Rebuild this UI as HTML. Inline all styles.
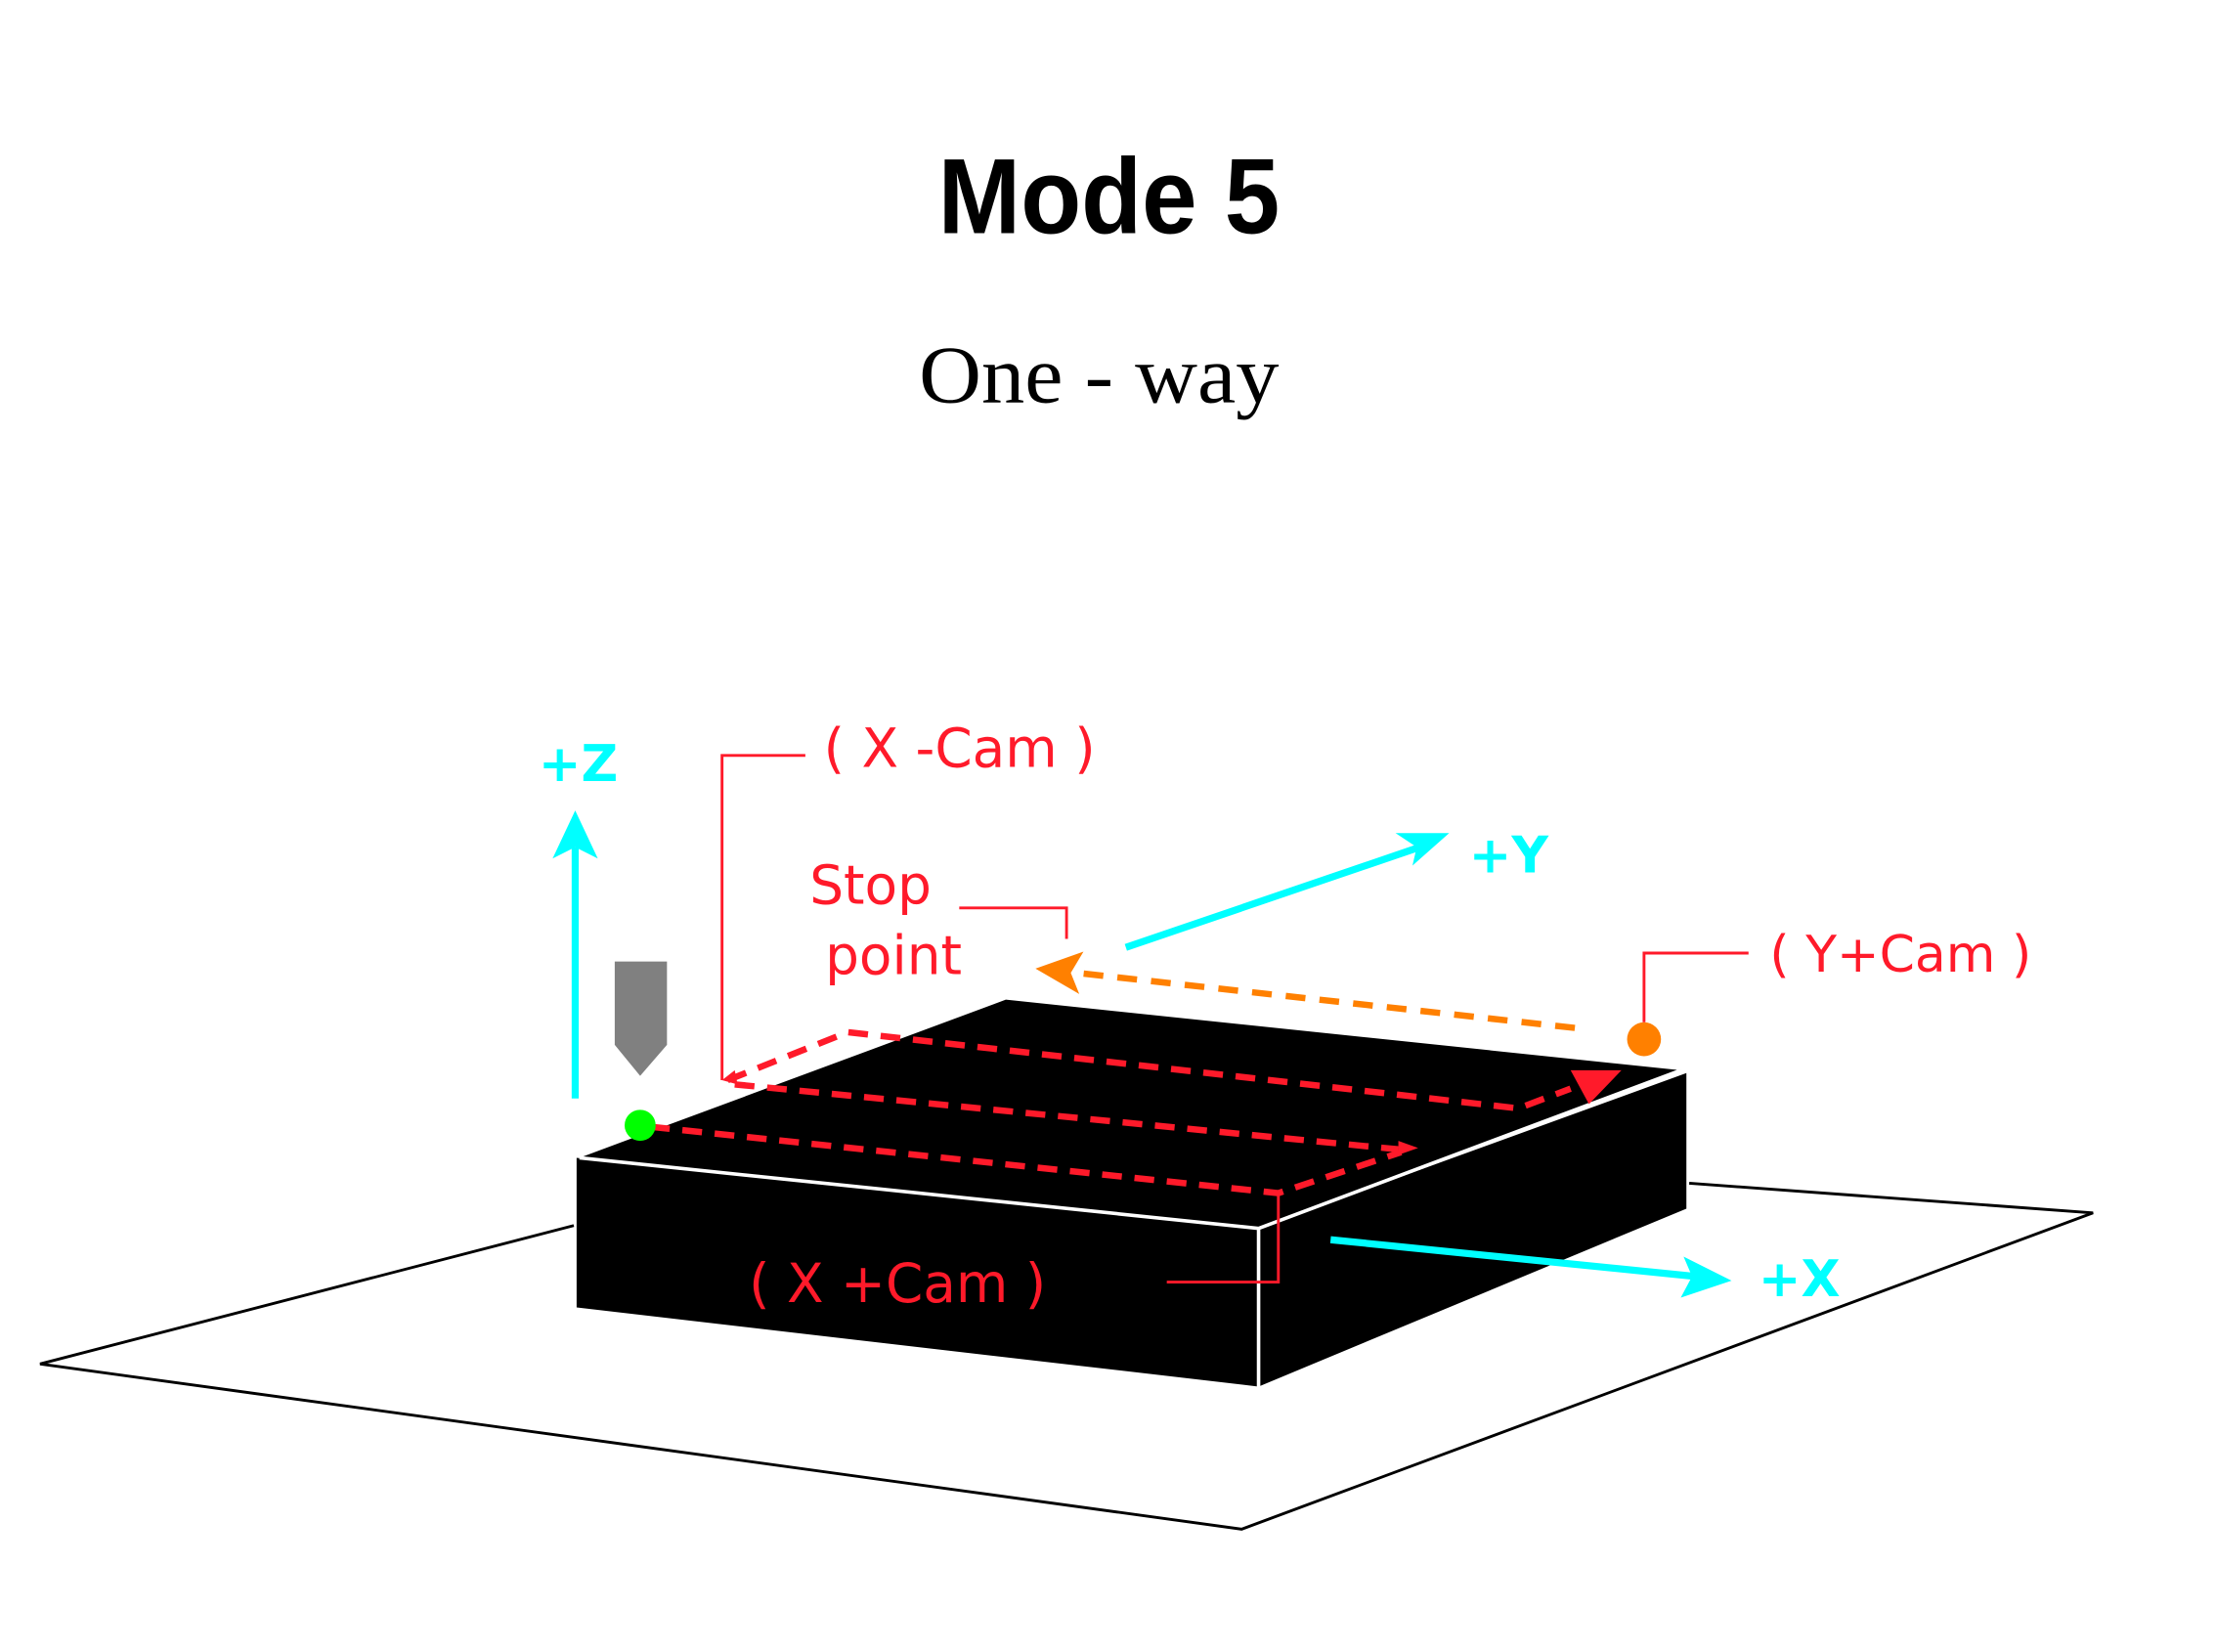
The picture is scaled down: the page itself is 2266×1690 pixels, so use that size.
<!DOCTYPE html>
<html><head><meta charset="utf-8"><style>html,body{margin:0;padding:0;background:#fff}svg{display:block}</style></head>
<body>
<svg width="2266" height="1690" viewBox="0 0 1568 1170" xmlns="http://www.w3.org/2000/svg">
<rect width="1568" height="1170" fill="#fff"/>
<text x="785" y="165" text-anchor="middle" font-family="Liberation Sans, DejaVu Sans, sans-serif" font-weight="bold" font-size="76" textLength="242" lengthAdjust="spacingAndGlyphs" fill="#000">Mode 5</text>
<text x="778" y="285" text-anchor="middle" font-family="Liberation Serif, serif" font-size="58" textLength="255" lengthAdjust="spacingAndGlyphs" fill="#000">One - way</text>
<!-- ground plane -->
<path d="M406,868 L28,966 L879,1083 L1482,859 L1196,838" fill="none" stroke="#000" stroke-width="2"/>
<!-- box -->
<polygon points="410,820 712,708 1190,758 891,870" fill="#000"/>
<polygon points="408,820 891,870 891,982 408,926" fill="#000"/>
<polygon points="891,870 1194,760 1194,856 891,982" fill="#000"/>
<path d="M410,820 L891,870 L1190,758 M891,870 L891,982" fill="none" stroke="#fff" stroke-width="2.5"/>
<!-- red paths -->
<g stroke="#ff1a2a" stroke-width="4.5" stroke-dasharray="14,9" fill="none">
<path d="M460,798 L905,845 L992,816"/>
<path d="M520,768 L990,814"/>
<path d="M515,765 L600,731 L1075,785 L1112,771"/>
</g>
<polygon points="990,808 1004,813 990,818" fill="#ff1a2a"/>
<polygon points="1112,758 1148,758 1125,782" fill="#ff1a2a"/>
<polygon points="511,765 520,758 522,768" fill="#ff1a2a"/>
<!-- orange -->
<path d="M1115,728 L762,689" stroke="#ff8000" stroke-width="4.5" stroke-dasharray="14,10" fill="none"/>
<polygon points="733,686 767,674 758,689 764,704" fill="#ff8000"/>
<circle cx="1164" cy="736" r="12" fill="#ff8000"/>
<path d="M1164,724 L1164,675 L1238,675" stroke="#ff1a2a" stroke-width="2" fill="none"/>
<text x="1253" y="688" font-family="DejaVu Sans, Liberation Sans, sans-serif" font-size="36" fill="#ff1a2a">( Y+Cam )</text>
<!-- cyan axes -->
<g stroke="#00ffff" stroke-width="5" fill="none">
<path d="M407,778 L407,600"/>
<path d="M797,671 L1005,600"/>
<path d="M942,878 L1200,904"/>
</g>
<polygon points="407,574 423,608 407,600 391,608" fill="#00ffff"/>
<polygon points="1026,590 1000,613 1003,600 988,590" fill="#00ffff"/>
<polygon points="1226,907 1190,919 1198,904 1192,890" fill="#00ffff"/>
<g font-family="DejaVu Sans, Liberation Sans, sans-serif" font-weight="bold" font-size="36" fill="#00ffff">
<text x="381" y="553">+Z</text>
<text x="1040" y="618">+Y</text>
<text x="1245" y="918">+X</text>
</g>
<!-- tool -->
<polygon points="435,681 472,681 472,740 453,762 435,740" fill="#808080"/>
<circle cx="453" cy="797" r="11" fill="#00ff00"/>
<!-- leaders & labels -->
<g stroke="#ff1a2a" stroke-width="2" fill="none">
<path d="M511,765 L511,535 L570,535"/>
<path d="M679,643 L755,643 L755,665"/>
<path d="M826,908 L905,908 L905,845"/>
</g>
<g font-family="DejaVu Sans, Liberation Sans, sans-serif" font-size="38" fill="#ff1a2a">
<text x="583" y="543">( X -Cam )</text>
<text x="573" y="640">Stop</text>
<text x="584" y="690">point</text>
<text x="530" y="922">( X +Cam )</text>
</g>
</svg>
</body></html>
